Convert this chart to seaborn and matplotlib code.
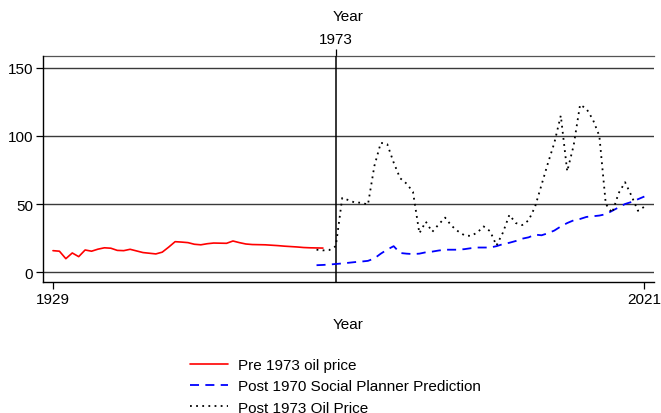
import matplotlib
matplotlib.use("Agg")
import matplotlib.pyplot as plt
import seaborn as sns
import pandas as pd

# Real oil price, annual
pre_years = list(range(1929, 1972))
pre_price = [15.7, 15.3, 9.8, 14.0, 11.3, 16.2, 15.3, 16.8, 17.8, 17.5,
             15.9, 15.7, 16.7, 15.5, 14.3, 13.8, 13.3, 14.6, 18.3, 22.3,
             22.0, 21.6, 20.4, 20.0, 20.8, 21.3, 21.2, 21.1, 22.8, 21.6,
             20.6, 20.2, 20.1, 20.0, 19.7, 19.4, 19.0, 18.7, 18.4, 18.0,
             17.8, 17.7, 17.6]

post_years = list(range(1970, 2022))
post_price = [16.4, 15.9, 16.2, 19.0, 54.5, 52.8, 51.0, 51.0, 49.5, 78.0,
              95.0, 94.0, 80.5, 69.0, 65.0, 59.0, 28.5, 37.0, 29.5, 35.0,
              40.0, 34.0, 30.0, 27.0, 26.5, 29.0, 33.5, 30.0, 19.5, 29.0,
              42.0, 36.0, 34.5, 38.0, 48.0, 64.0, 80.0, 95.0, 115.0, 74.0,
              93.0, 123.0, 120.0, 112.0, 100.0, 50.0, 43.5, 58.0, 66.0, 56.0,
              45.0, 48.0]

planner = [5.0, 5.2, 5.5, 5.9, 6.3, 6.8, 7.3, 7.7, 8.2, 10.0,
           13.5, 16.5, 19.0, 14.0, 13.5, 13.2, 13.5, 14.5, 15.0, 15.8,
           16.4, 16.4, 16.4, 16.8, 17.5, 18.0, 18.0, 18.0, 19.0, 20.5,
           21.5, 22.8, 24.5, 25.5, 27.5, 27.0, 28.5, 30.5, 33.5, 36.0,
           38.0, 39.0, 40.5, 41.0, 41.5, 42.5, 45.0, 47.5, 50.0, 51.5,
           53.5, 55.5]

series_labels = ["Pre 1973 oil price",
                 "Post 1970 Social Planner Prediction",
                 "Post 1973 Oil Price"]
y_ticks = [0, 50, 100, 150]
x_ticks = [1929, 2021]
break_year = 1973

sns.set_theme(style="white")
plt.rcParams["font.family"] = ["Liberation Sans", "DejaVu Sans"]
plt.rcParams["font.size"] = 11
for key in ["text.color", "axes.labelcolor", "xtick.color", "ytick.color"]:
    plt.rcParams[key] = "black"

fig = plt.figure(figsize=(6.61, 4.14), dpi=100)
ax = fig.add_axes([0.0646, 0.3164, 0.9248, 0.5459])

pre_df = pd.DataFrame({"year": pre_years, "price": pre_price})
post_df = pd.DataFrame({"year": post_years, "price": post_price,
                        "planner": planner})

for y in y_ticks:
    ax.axhline(y, color="#3a3a3a", lw=1.0, zorder=1)
ax.axvline(break_year, color="black", lw=1.1, zorder=1)

sns.lineplot(data=pre_df, x="year", y="price", ax=ax, color="red",
             lw=1.2, label=series_labels[0], legend=False, zorder=3)
sns.lineplot(data=post_df, x="year", y="planner", ax=ax, color="blue",
             lw=1.3, linestyle=(0, (5, 3.5)), label=series_labels[1],
             legend=False, zorder=3)
sns.lineplot(data=post_df, x="year", y="price", ax=ax, color="black",
             lw=1.3, linestyle=(0, (1, 2.4)), label=series_labels[2],
             legend=False, zorder=3)

ax.set_xlim(1927.4, 2022.5)
ax.set_ylim(-7.35, 158.8)
ax.set_xticks(x_ticks)
ax.set_yticks(y_ticks)
ax.set_xlabel("Year", fontsize=11, labelpad=8)
ax.set_ylabel("")
ax.tick_params(axis="both", which="major", direction="out", length=5,
               width=0.9, color="black", labelcolor="black", labelsize=11,
               pad=2, bottom=True, left=True)

for side in ["right", "top"]:
    ax.spines[side].set_visible(False)
for side in ["left", "bottom"]:
    ax.spines[side].set_color("black")
    ax.spines[side].set_linewidth(1.0)

top = ax.secondary_xaxis("top")
top.set_xticks([break_year])
top.set_xlabel("Year", fontsize=11, labelpad=9, color="black")
top.tick_params(direction="out", length=5, width=0.9, color="black",
                labelcolor="black", labelsize=11, pad=2)
top.spines["top"].set_color("#555555")
top.spines["top"].set_linewidth(0.9)

handles, labels = ax.get_legend_handles_labels()
fig.legend(handles, labels, loc="upper left",
           bbox_to_anchor=(0.2874, 0.1323), frameon=False, fontsize=11,
           handlelength=2.5, handletextpad=0.65, labelspacing=0.47,
           borderpad=0, borderaxespad=0)

fig.savefig("out.png", dpi=100)
